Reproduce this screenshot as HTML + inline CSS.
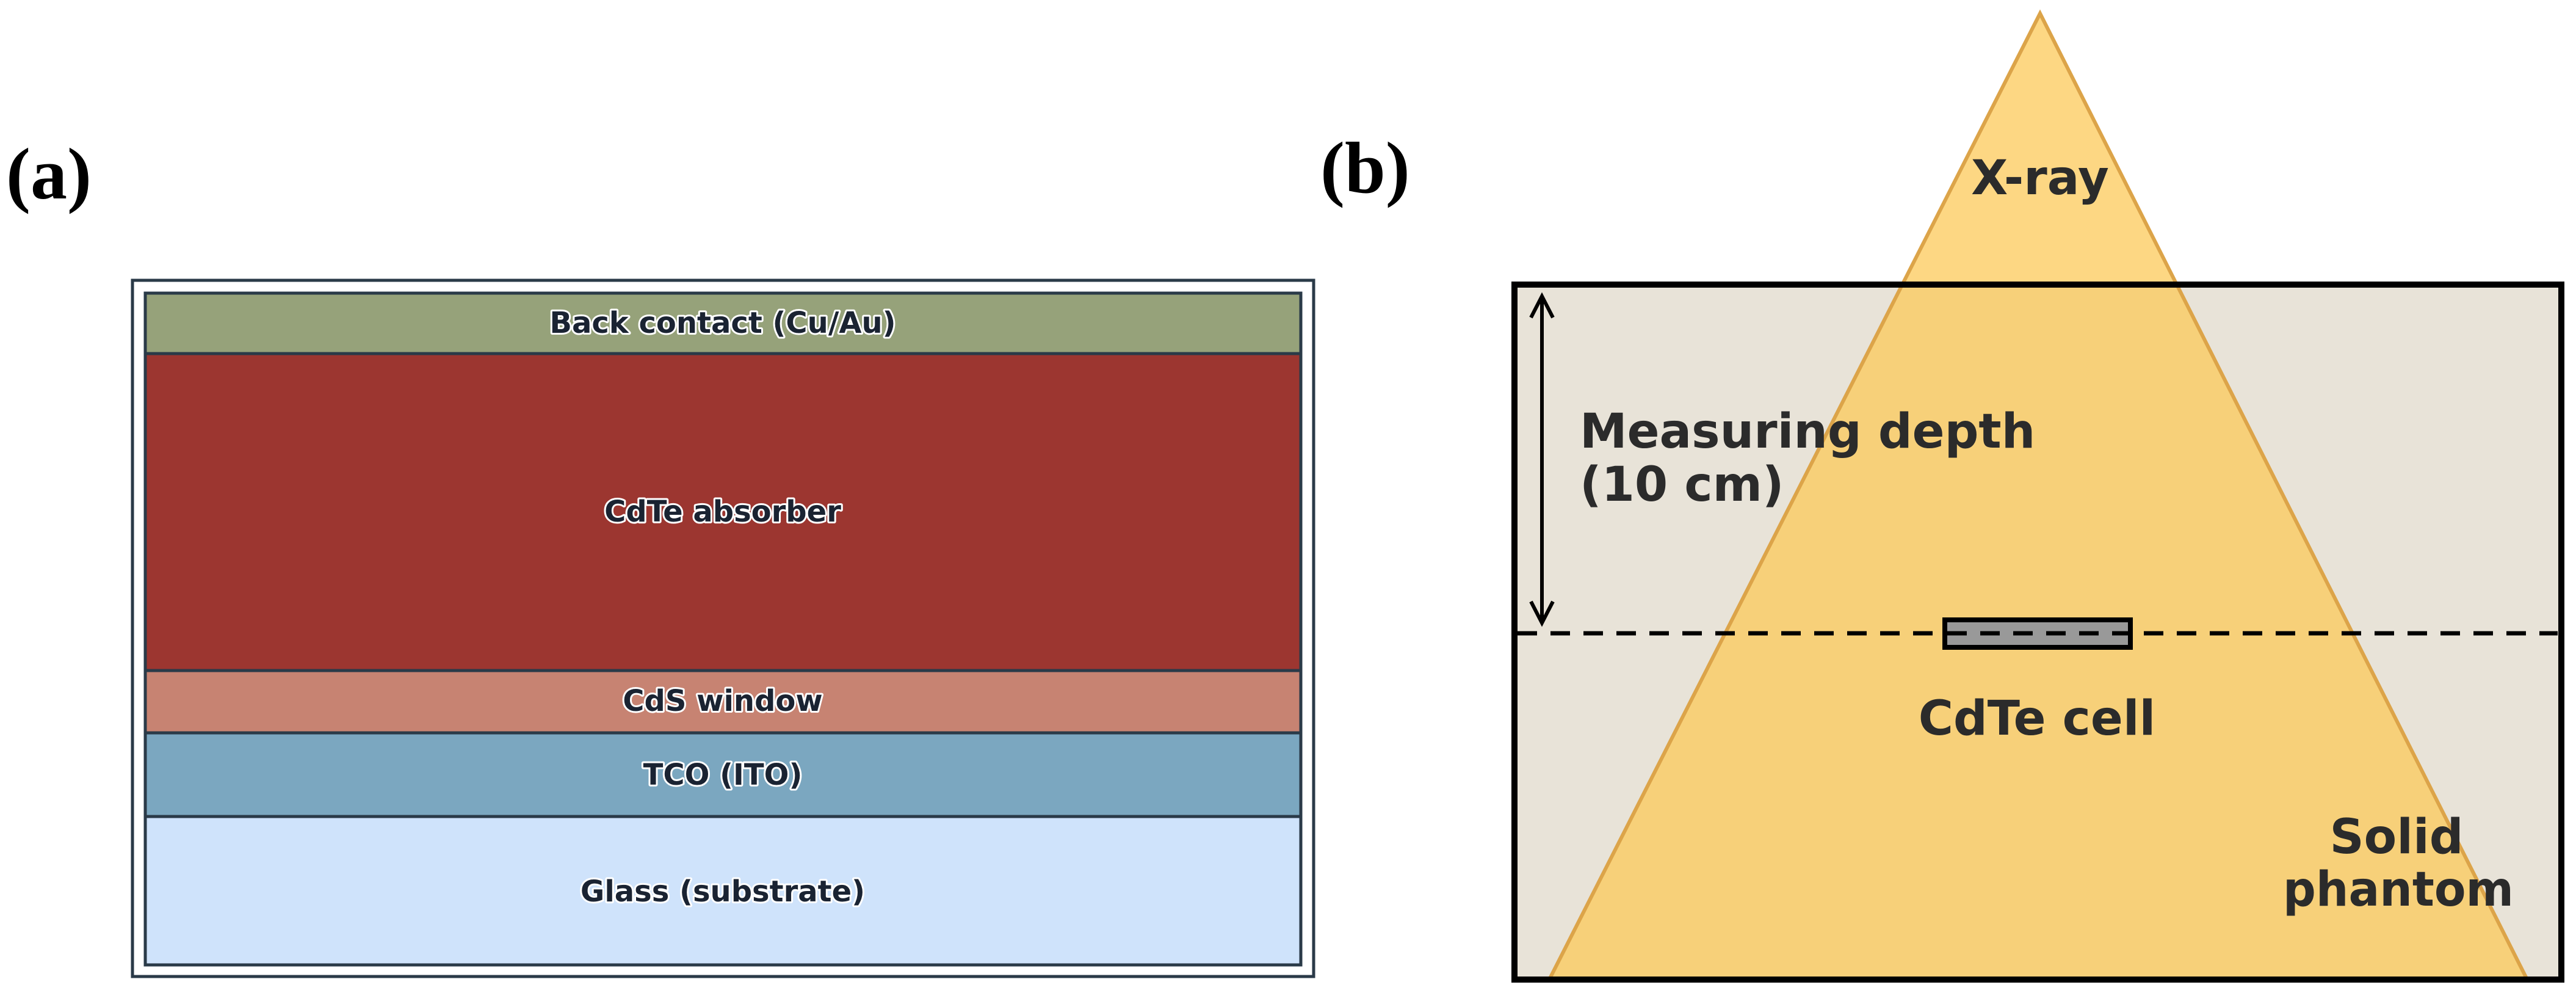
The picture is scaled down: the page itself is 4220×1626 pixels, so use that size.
<!DOCTYPE html>
<html><head><meta charset="utf-8"><style>html,body{margin:0;padding:0;background:#fff}svg{display:block}</style></head>
<body>
<svg width="4220" height="1626" viewBox="0 0 4220 1626" xmlns="http://www.w3.org/2000/svg">
<style>
.lab{font-family:"DejaVu Sans","Liberation Sans",sans-serif;font-weight:bold;font-size:48px;fill:#1a2332;stroke:#fff;stroke-width:6px;paint-order:stroke;stroke-linejoin:round;text-anchor:middle}
.b{font-family:"DejaVu Sans","Liberation Sans",sans-serif;font-weight:bold;font-size:78px;fill:#2b2b2b}
.p{font-family:"Liberation Serif",serif;font-weight:bold;font-size:120px;fill:#000}
</style>
<text class="p" x="10" y="325">(a)</text>
<text class="p" x="2163" y="315">(b)</text>
<!-- panel a -->
<rect x="217" y="459" width="1935" height="1140" fill="#fff" stroke="#2a3a48" stroke-width="5"/>
<g stroke="#2a3a48" stroke-width="5">
<rect x="238" y="480" width="1893" height="99" fill="#96a27a"/>
<rect x="238" y="579" width="1893" height="519" fill="#9c3630"/>
<rect x="238" y="1098" width="1893" height="102" fill="#c78372"/>
<rect x="238" y="1200" width="1893" height="137" fill="#7ba7c0"/>
<rect x="238" y="1337" width="1893" height="243" fill="#cfe3fb"/>
</g>
<text class="lab" x="1184" y="545">Back contact (Cu/Au)</text>
<text class="lab" x="1184" y="854">CdTe absorber</text>
<text class="lab" x="1184" y="1164">CdS window</text>
<text class="lab" x="1184" y="1285">TCO (ITO)</text>
<text class="lab" x="1184" y="1476">Glass (substrate)</text>
<!-- panel b -->
<rect x="2481" y="466" width="1715" height="1138" fill="#e8e3d8"/>
<polygon points="3342,22 2538,1604 4140,1604" fill="#fcc95a" fill-opacity="0.75" stroke="#dca449" stroke-width="6"/>
<rect x="2481" y="466" width="1715" height="1138" fill="none" stroke="#000" stroke-width="10"/>
<line x1="2486" y1="1037" x2="4190" y2="1037" stroke="#000" stroke-width="7" stroke-dasharray="32,22"/>
<rect x="3186" y="1015" width="304" height="45" fill="#999" stroke="#000" stroke-width="8"/>
<line x1="3190" y1="1037" x2="3486" y2="1037" stroke="#000" stroke-width="7" stroke-dasharray="32,22"/>
<line x1="2526" y1="485" x2="2526" y2="1020" stroke="#000" stroke-width="6"/>
<polyline points="2508,520 2526,485 2544,520" fill="none" stroke="#000" stroke-width="6"/>
<polyline points="2508,985 2526,1020 2544,985" fill="none" stroke="#000" stroke-width="6"/>
<text class="b" x="3342" y="318" text-anchor="middle">X-ray</text>
<text class="b" x="2588" y="733">Measuring depth</text>
<text class="b" x="2588" y="820">(10 cm)</text>
<text class="b" x="3337" y="1203" text-anchor="middle" font-size="77">CdTe cell</text>
<text class="b" x="3926" y="1397" text-anchor="middle">Solid</text>
<text class="b" x="3929" y="1483" text-anchor="middle" textLength="378" lengthAdjust="spacingAndGlyphs">phantom</text>
</svg>
</body></html>
